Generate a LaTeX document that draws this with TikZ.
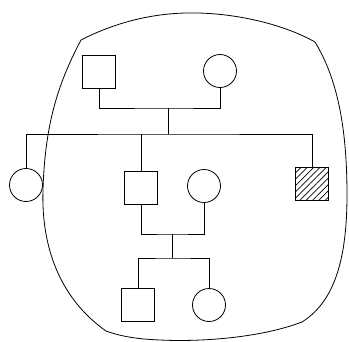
\documentclass[tikz,border=0pt]{standalone}
\usetikzlibrary{patterns.meta}
\begin{document}
\begin{tikzpicture}[x=1pt,y=-1pt,line width=0.8pt,
  male/.style={draw,rectangle,minimum size=33pt,inner sep=0pt},
  female/.style={draw,circle,minimum size=33pt,inner sep=0pt},
  affected/.style={male,pattern={Lines[angle=45,distance=4.5pt,line width=0.7pt]}},
  line/.style={draw,line width=0.8pt},
  boundary/.style={draw,line width=0.8pt}]
\useasboundingbox (0,0) rectangle (349,341);
% enclosing boundary
\draw[boundary] (81,40) .. controls (120,20) and (160,12) .. (198,13)
  .. controls (240,14) and (285,25) .. (315,42)
  .. controls (335,75) and (347,120) .. (347,195)
  .. controls (347,265) and (332,303) .. (302,322)
  .. controls (260,338) and (200,342) .. (160,340)
  .. controls (135,339) and (120,336) .. (106,331)
  .. controls (62,300) and (41,250) .. (43,190)
  .. controls (45,120) and (60,80) .. (81,40);
% generation I
\node[male] (gf) at (99,72) {};
\node[female] (gm) at (220,71) {};
% generation II
\node[female] (aunt) at (26,185) {};
\node[male] (father) at (141,188) {};
\node[female] (mother) at (204,186) {};
\node[affected] (uncle) at (312,184) {};
% generation III
\node[male] (son) at (138,305) {};
\node[female] (daughter) at (209,305) {};
% connector points
\coordinate (c1) at (168,108);
\coordinate (s1) at (168,134);
\coordinate (c2) at (172,234);
\coordinate (s2) at (172,258);
% lines
\draw[line] (gf.south) |- (c1) -| (gm.south);
\draw[line] (c1) -- (s1);
\draw[line] (aunt.north) |- (s1) -| (uncle.north);
\draw[line] (father.north) -- (father.north |- s1);
\draw[line] (father.south) |- (c2) -| (mother.south);
\draw[line] (c2) -- (s2);
\draw[line] (son.north) |- (s2) -| (daughter.north);
\end{tikzpicture}
\end{document}
